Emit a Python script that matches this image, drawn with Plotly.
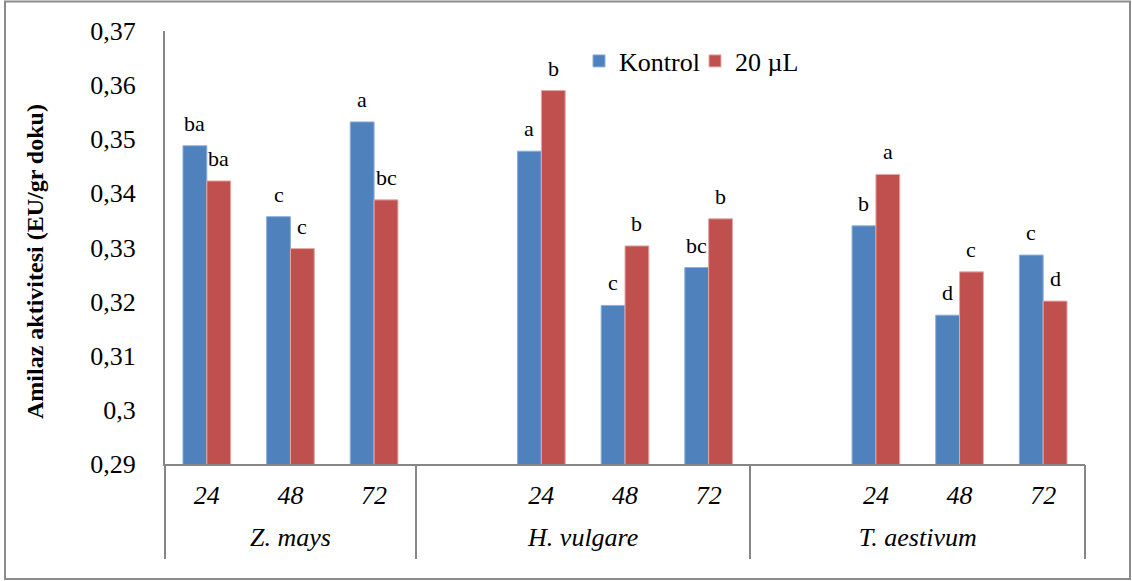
import plotly.graph_objects as go

# ---- data ----
groups = ["Z. mays", "Z. mays", "Z. mays",
          "H. vulgare", "H. vulgare", "H. vulgare", "H. vulgare",
          "T. aestivum", "T. aestivum", "T. aestivum", "T. aestivum"]
times = ["24", "48", "72", "", "24", "48", "72", "", "24", "48", "72"]
kontrol = [0.3488, 0.3357, 0.3532, None, 0.3478, 0.3193, 0.3263, None, 0.3340, 0.3175, 0.3286]
ul20 = [0.3423, 0.3298, 0.3388, None, 0.3590, 0.3303, 0.3353, None, 0.3435, 0.3255, 0.3201]
letters_kontrol = ["ba", "c", "a", "", "a", "c", "bc", "", "b", "d", "c"]
letters_ul20 = ["ba", "c", "bc", "", "b", "b", "b", "", "a", "c", "d"]
series_names = ["Kontrol", "20 µL"]
y_ticks = [0.29, 0.30, 0.31, 0.32, 0.33, 0.34, 0.35, 0.36, 0.37]
y_ticktext = ["0,29", "0,3", "0,31", "0,32", "0,33", "0,34", "0,35", "0,36", "0,37"]
y_title = "Amilaz aktivitesi (EU/gr doku)"

FONT = "Liberation Serif"
BLUE = "#4F81BD"
RED = "#C0504D"
GRAY = "#868686"
BARGAP = 0.43

# category slots (one per entry of `times`)
slots = list(range(len(times)))
tick_pos = [s for s, t in zip(slots, times) if t]
tick_lab = [t for t in times if t]
group_names = list(dict.fromkeys(groups))
group_idx = {g: [s for s, gg in zip(slots, groups) if gg == g] for g in group_names}
group_centers = [(min(group_idx[g]) + max(group_idx[g])) / 2 for g in group_names]
dividers = [min(group_idx[g]) - 0.5 for g in group_names] + [max(slots) + 0.5]

fig = go.Figure()
fig.add_trace(go.Bar(
    x=slots, y=kontrol, name=series_names[0],
    marker=dict(color=BLUE, line=dict(color="#8DAEDB", width=1)),
))
fig.add_trace(go.Bar(
    x=slots, y=ul20, name=series_names[1],
    marker=dict(color=RED, line=dict(color="#E3A9A8", width=1)),
))
# carrier for the group-label axis (no visible marks)
fig.add_trace(go.Scatter(
    x=group_centers, y=[None] * len(group_centers), xaxis="x2", yaxis="y",
    mode="markers", marker=dict(opacity=0), showlegend=False, hoverinfo="skip",
))

# significance letters above each bar (bar centres follow the grouped-bar layout)
half = (1 - BARGAP) / 4
letter_annotations = []
for vals, letters, off in ((kontrol, letters_kontrol, -half), (ul20, letters_ul20, half)):
    for s, v, t in zip(slots, vals, letters):
        if v is None or not t:
            continue
        letter_annotations.append(dict(
            x=s + off, y=v, xref="x", yref="y", text=t, showarrow=False,
            xanchor="center", yanchor="bottom", yshift=8,
            font=dict(family=FONT, size=22, color="black"),
        ))

W, H = 1132, 581
L, R, T, B = 165, 47, 31, 117
pw, ph = W - L - R, H - T - B

def px_x(x):
    return (x - L) / pw

def px_y(y):
    return (H - B - y) / ph

xr = [-0.5, max(slots) + 0.5]
tickfont_it = dict(family=FONT, size=26, color="black", style="italic")

fig.update_layout(
    width=W, height=H,
    margin=dict(l=L, r=R, t=T, b=B, pad=0),
    paper_bgcolor="white", plot_bgcolor="white",
    font=dict(family=FONT, size=26, color="black"),
    barmode="group", bargap=BARGAP, bargroupgap=0.0,
    showlegend=True,
    legend=dict(orientation="h", x=px_x(579), xanchor="left",
                y=px_y(61), yanchor="middle",
                font=dict(family=FONT, size=26, color="black"),
                bgcolor="rgba(0,0,0,0)", itemwidth=30, tracegroupgap=0,
                entrywidth=71),
    xaxis=dict(
        type="linear", range=xr,
        tickmode="array", tickvals=tick_pos, ticktext=tick_lab,
        showline=True, linecolor=GRAY, linewidth=2,
        showgrid=False, zeroline=False, ticks="",
        ticklabelstandoff=7,
        tickfont=tickfont_it,
    ),
    xaxis2=dict(
        type="linear", range=xr, overlaying="x", anchor="y", side="bottom",
        tickmode="array", tickvals=group_centers, ticktext=group_names,
        showline=False, showgrid=False, zeroline=False, ticks="",
        ticklabelstandoff=55,
        tickfont=tickfont_it,
        minor=dict(tickmode="array", tickvals=dividers, ticks="outside",
                   ticklen=94, tickwidth=2, tickcolor=GRAY, showgrid=False),
    ),
    yaxis=dict(
        range=[0.29, 0.37], tickvals=y_ticks, ticktext=y_ticktext,
        showline=True, linecolor=GRAY, linewidth=2,
        showgrid=False, zeroline=False, ticks="",
        ticklabelstandoff=22,
        tickfont=dict(family=FONT, size=26, color="black"),
    ),
    annotations=letter_annotations + [dict(
        text="<b>" + y_title + "</b>", textangle=-90,
        xref="paper", yref="paper", x=px_x(35), y=px_y(262),
        xanchor="center", yanchor="middle", showarrow=False,
        font=dict(family=FONT, size=24, color="black"),
    )],
    shapes=[dict(
        type="rect", xref="paper", yref="paper",
        x0=px_x(5), x1=px_x(1130), y0=px_y(579), y1=px_y(1.5),
        line=dict(color="#8C8C8C", width=2), fillcolor="rgba(0,0,0,0)",
        layer="below",
    )],
)
fig.write_html("out.html", config=dict(displayModeBar=False),
               post_script="document.body.style.margin='0px';")
